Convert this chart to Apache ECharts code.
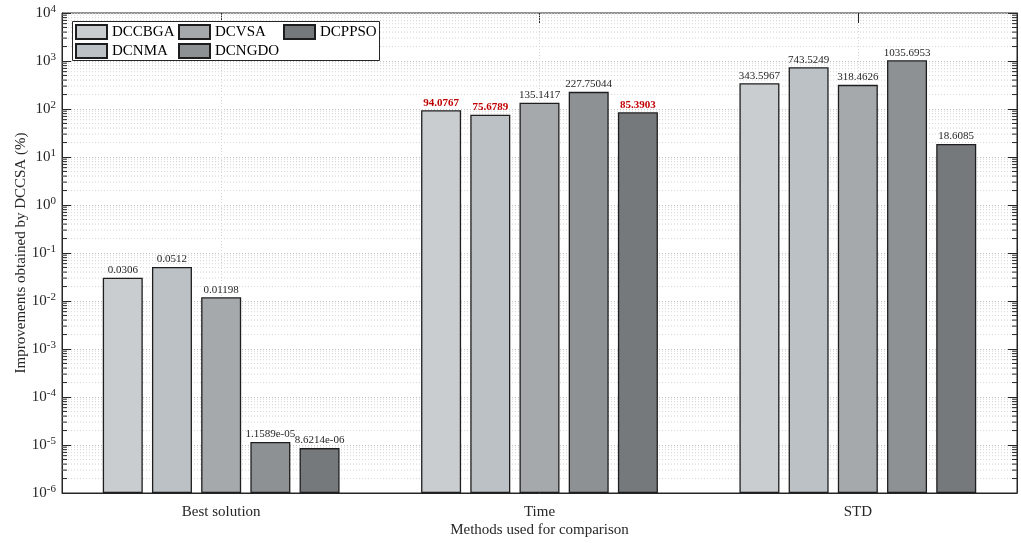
<!DOCTYPE html>
<html>
<head>
<meta charset="utf-8">
<script src="https://cdn.jsdelivr.net/npm/echarts@6/dist/echarts.min.js"></script>
<style>
html,body{margin:0;padding:0;background:#fff;}
#c{width:1021px;height:543px;}
</style>
</head>
<body>
<div id="c"></div>
<script>
// ---- data ----
const categories = ['Best solution', 'Time', 'STD'];
const seriesNames = ['DCCBGA', 'DCNMA', 'DCVSA', 'DCNGDO', 'DCPPSO'];
const DCCBGA = [0.0306, 94.0767, 343.5967];
const DCNMA  = [0.0512, 75.6789, 743.5249];
const DCVSA  = [0.01198, 135.1417, 318.4626];
const DCNGDO = [1.1589e-05, 227.75044, 1035.6953];
const DCPPSO = [8.6214e-06, 85.3903, 18.6085];
// which labels are highlighted in red (series name -> category indices)
const highlighted = { DCCBGA: [1], DCNMA: [1], DCPPSO: [1] };
const yMin = 1e-6, yMax = 1e4;

// ---- style ----
const FONT = 'Liberation Serif';
const colors = ['#c9cdd0', '#bcc1c5', '#a5a9ac', '#8e9194', '#76797c'];
const seriesValues = [DCCBGA, DCNMA, DCVSA, DCNGDO, DCPPSO];

function fmt(v) {
  if (v < 1e-4) {
    const s = v.toExponential(4);
    return s.replace(/e([+-])(\d)$/, 'e$10$2');
  }
  return String(v);
}

// minor grid values 2..9 x 10^e
const minorVals = [];
for (let e = -6; e < 4; e++) for (let k = 2; k <= 9; k++) minorVals.push(k * Math.pow(10, e));

// On a log axis ECharts bars grow from 1; an invisible base bar (up to yMin)
// in the same stack makes each visible bar rise from the bottom of the axis.
const barSeries = [];
seriesNames.forEach((name, i) => {
  barSeries.push({
    name: '_base' + i,
    type: 'bar', stack: 's' + i,
    xAxisIndex: 0, yAxisIndex: 0,
    barWidth: 40, barGap: '23%',
    silent: true,
    itemStyle: { color: 'rgba(0,0,0,0)', borderWidth: 0 },
    label: { show: false },
    data: seriesValues[i].map(() => yMin),
    z: 2
  });
  barSeries.push({
    name: name,
    type: 'bar', stack: 's' + i,
    xAxisIndex: 0, yAxisIndex: 0,
    barWidth: 40, barGap: '23%',
    itemStyle: { color: colors[i], borderColor: '#1e1e1e', borderWidth: 1.3 },
    label: {
      show: true, position: 'top', distance: 2,
      fontFamily: FONT, fontSize: 11, color: '#262626',
      formatter: p => fmt(seriesValues[i][p.dataIndex])
    },
    data: seriesValues[i].map((v, j) => {
      const hl = (highlighted[name] || []).indexOf(j) >= 0;
      const val = v - yMin;
      return hl ? { value: val, label: { color: '#c00000', fontWeight: 'bold' } } : val;
    }),
    z: 3
  });
});

const gridSeries = {
  type: 'custom',
  xAxisIndex: 1, yAxisIndex: 0,
  silent: true,
  z: 1,
  data: minorVals.map(v => [0.5, v]),
  renderItem: function (params, api) {
    const v = api.value(1);
    const p = api.coord([0.5, v]);
    const q = api.coord([3.5, v]);
    return {
      type: 'group',
      children: [
        { type: 'line', shape: { x1: p[0], y1: p[1], x2: q[0], y2: q[1] },
          style: { stroke: '#d6d6d6', lineWidth: 1, lineDash: [1, 2] } },
        { type: 'line', shape: { x1: p[0], y1: p[1], x2: p[0] + 5, y2: p[1] },
          style: { stroke: '#262626', lineWidth: 1 } },
        { type: 'line', shape: { x1: q[0] - 5, y1: q[1], x2: q[0], y2: q[1] },
          style: { stroke: '#262626', lineWidth: 1 } }
      ]
    };
  }
};

const legendCommon = {
  orient: 'vertical',
  padding: 0,
  itemWidth: 31, itemHeight: 14, itemGap: 3,
  textStyle: { fontFamily: FONT, fontSize: 15, color: '#000', lineHeight: 15 },
  icon: 'rect',
  selectedMode: false,
  z: 10
};

const option = {
  backgroundColor: '#fff',
  animation: false,
  grid: { left: 62, right: 4, top: 13, bottom: 46, show: true, borderColor: '#262626', borderWidth: 1 },
  legend: [
    Object.assign({ left: 75, top: 24, data: ['DCCBGA', 'DCNMA'] }, legendCommon),
    Object.assign({ left: 178, top: 24, data: ['DCVSA', 'DCNGDO'] }, legendCommon),
    Object.assign({ left: 283, top: 24, data: ['DCPPSO'] }, legendCommon)
  ],
  graphic: [{
    type: 'rect', left: 72, top: 21, z: 5,
    shape: { width: 307, height: 39 },
    style: { fill: '#fff', stroke: '#262626', lineWidth: 1 }
  }],
  xAxis: [{
    type: 'category', data: categories, position: 'bottom',
    axisLine: { lineStyle: { color: '#262626' } },
    axisTick: { show: false },
    axisLabel: { fontFamily: FONT, fontSize: 15, color: '#262626', margin: 12 },
    name: 'Methods used for comparison', nameLocation: 'middle', nameGap: 30,
    nameMoveOverlap: false,
    nameTextStyle: { fontFamily: FONT, fontSize: 15, color: '#262626' }
  }, {
    type: 'value', min: 0.5, max: 3.5, interval: 0.25, position: 'bottom',
    axisLine: { show: false },
    axisLabel: { show: false },
    axisTick: { show: true, inside: true, length: 10, customValues: [1, 2, 3], lineStyle: { color: '#262626' } },
    splitLine: { show: true, lineStyle: { color: '#d6d6d6', type: [1, 2] } }
  }, {
    type: 'value', min: 0.5, max: 3.5, interval: 0.25, position: 'top',
    axisLine: { show: false },
    axisLabel: { show: false },
    axisTick: { show: true, inside: true, length: 10, customValues: [1, 2, 3], lineStyle: { color: '#262626' } },
    splitLine: { show: false }
  }],
  yAxis: [{
    type: 'log', logBase: 10, min: yMin, max: yMax, interval: 1, splitNumber: 10, position: 'left',
    axisLine: { show: true, lineStyle: { color: '#262626' } },
    axisTick: { show: true, inside: true, length: 9, lineStyle: { color: '#262626' } },
    splitLine: { show: true, lineStyle: { color: '#c4c4c4', type: [1, 2] } },
    axisLabel: {
      fontFamily: FONT, fontSize: 15, color: '#262626', margin: 6,
      formatter: v => '10{s|' + Math.round(Math.log10(v)) + '}',
      rich: { s: { fontFamily: FONT, fontSize: 11, color: '#262626', verticalAlign: 'top', padding: [0, 0, 8, 0] } }
    },
    name: 'Improvements obtained by DCCSA (%)', nameLocation: 'middle', nameGap: 33,
    nameMoveOverlap: false,
    nameTextStyle: { fontFamily: FONT, fontSize: 15, color: '#262626' }
  }, {
    type: 'log', logBase: 10, min: yMin, max: yMax, interval: 1, splitNumber: 10, position: 'right',
    axisLine: { show: true, lineStyle: { color: '#262626' } },
    axisTick: { show: true, inside: true, length: 9, lineStyle: { color: '#262626' } },
    splitLine: { show: false },
    axisLabel: { show: false }
  }],
  series: barSeries.concat([gridSeries])
};

const chart = echarts.init(document.getElementById('c'));
chart.setOption(option);
</script>
</body>
</html>
